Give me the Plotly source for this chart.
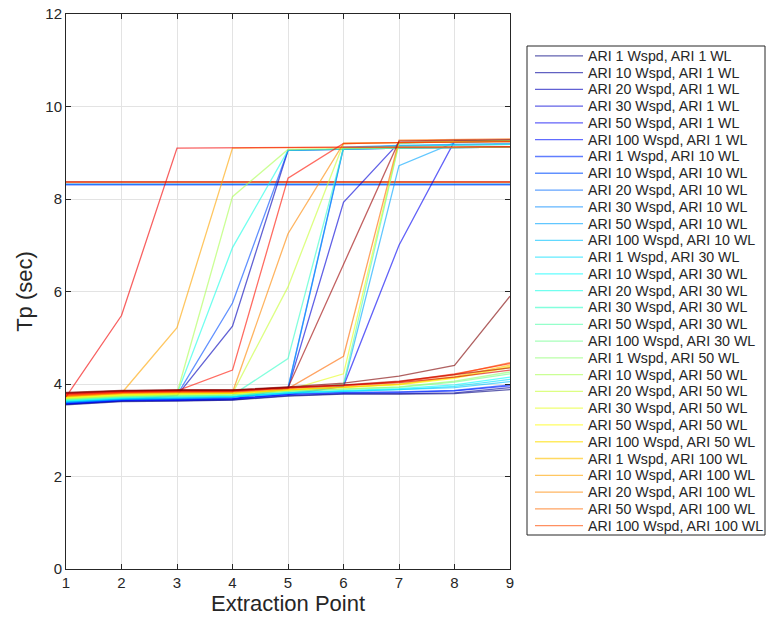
import plotly.graph_objects as go

x_points = [1, 2, 3, 4, 5, 6, 7, 8, 9]

legend_names = [
    "ARI 1 Wspd, ARI 1 WL", "ARI 10 Wspd, ARI 1 WL", "ARI 20 Wspd, ARI 1 WL",
    "ARI 30 Wspd, ARI 1 WL", "ARI 50 Wspd, ARI 1 WL", "ARI 100 Wspd, ARI 1 WL",
    "ARI 1 Wspd, ARI 10 WL", "ARI 10 Wspd, ARI 10 WL", "ARI 20 Wspd, ARI 10 WL",
    "ARI 30 Wspd, ARI 10 WL", "ARI 50 Wspd, ARI 10 WL", "ARI 100 Wspd, ARI 10 WL",
    "ARI 1 Wspd, ARI 30 WL", "ARI 10 Wspd, ARI 30 WL", "ARI 20 Wspd, ARI 30 WL",
    "ARI 30 Wspd, ARI 30 WL", "ARI 50 Wspd, ARI 30 WL", "ARI 100 Wspd, ARI 30 WL",
    "ARI 1 Wspd, ARI 50 WL", "ARI 10 Wspd, ARI 50 WL", "ARI 20 Wspd, ARI 50 WL",
    "ARI 30 Wspd, ARI 50 WL", "ARI 50 Wspd, ARI 50 WL", "ARI 100 Wspd, ARI 50 WL",
    "ARI 1 Wspd, ARI 100 WL", "ARI 10 Wspd, ARI 100 WL", "ARI 20 Wspd, ARI 100 WL",
    "ARI 50 Wspd, ARI 100 WL", "ARI 100 Wspd, ARI 100 WL",
]

# Tp (sec) per series, labelled series first, then unlabelled extra lines
tp_series = [
    [3.55, 3.62, 3.63, 3.65, 3.74, 3.78, 3.78, 3.79, 3.88],
    [3.56, 3.63, 3.64, 3.66, 3.75, 3.79, 3.79, 3.81, 3.92],
    [3.57, 3.64, 3.75, 5.25, 9.05, 9.08, 9.10, 9.11, 9.12],
    [3.57, 3.64, 3.65, 3.67, 3.90, 7.93, 9.22, 9.24, 9.25],
    [3.58, 3.65, 3.66, 3.68, 3.77, 3.95, 7.00, 9.25, 9.28],
    [3.58, 3.65, 3.66, 3.68, 3.77, 3.81, 3.82, 3.85, 3.96],
    [3.59, 3.66, 3.67, 3.69, 3.78, 3.82, 3.83, 3.86, 3.98],
    [3.60, 3.66, 3.76, 5.75, 9.05, 9.08, 9.10, 9.11, 9.12],
    [3.60, 3.67, 3.68, 3.71, 3.90, 9.10, 9.15, 9.17, 9.18],
    [3.61, 3.67, 3.69, 3.71, 3.92, 9.12, 9.16, 9.18, 9.20],
    [3.61, 3.68, 3.69, 3.72, 3.80, 3.96, 8.72, 9.22, 9.26],
    [3.62, 3.68, 3.70, 3.72, 3.80, 3.84, 3.87, 3.92, 4.05],
    [3.63, 3.69, 3.71, 3.73, 3.81, 3.85, 3.88, 3.95, 4.10],
    [3.64, 3.70, 3.72, 3.74, 3.82, 3.86, 3.90, 3.98, 4.15],
    [3.64, 3.70, 3.78, 6.95, 9.05, 9.08, 9.10, 9.11, 9.12],
    [3.65, 3.71, 3.73, 3.76, 4.55, 9.10, 9.14, 9.16, 9.18],
    [3.66, 3.72, 3.74, 3.76, 3.84, 4.00, 9.20, 9.24, 9.26],
    [3.67, 3.73, 3.75, 3.76, 3.84, 3.88, 3.93, 4.04, 4.22],
    [3.68, 3.74, 3.76, 3.77, 3.85, 3.89, 3.94, 4.06, 4.26],
    [3.69, 3.74, 3.80, 8.05, 9.07, 9.09, 9.10, 9.11, 9.12],
    [3.69, 3.75, 3.77, 3.80, 6.10, 9.20, 9.22, 9.23, 9.24],
    [3.70, 3.76, 3.78, 3.79, 3.87, 4.22, 9.22, 9.25, 9.27],
    [3.71, 3.77, 3.79, 3.80, 3.87, 3.92, 3.98, 4.12, 4.36],
    [3.72, 3.78, 3.80, 3.80, 3.88, 3.93, 3.99, 4.14, 4.38],
    [3.73, 3.79, 3.81, 3.81, 3.88, 3.93, 4.00, 4.16, 4.41],
    [3.74, 3.80, 5.22, 9.10, 9.11, 9.11, 9.12, 9.12, 9.13],
    [3.74, 3.80, 3.82, 3.82, 7.25, 9.20, 9.22, 9.23, 9.24],
    [3.75, 3.81, 3.83, 3.83, 3.90, 4.60, 9.27, 9.29, 9.30],
    [3.76, 3.82, 3.83, 3.84, 3.91, 3.96, 4.04, 4.20, 4.46],
    # unlabelled lines
    [3.77, 3.82, 3.84, 3.84, 3.91, 3.97, 4.05, 4.22, 4.44],
    [3.78, 3.83, 3.85, 4.30, 8.45, 9.20, 9.22, 9.23, 9.24],
    [3.72, 5.48, 9.10, 9.11, 9.12, 9.12, 9.12, 9.13, 9.13],
    [3.79, 3.84, 3.86, 3.86, 3.92, 3.97, 4.03, 4.15, 4.30],
    [3.80, 3.85, 3.86, 3.86, 3.93, 3.98, 4.06, 4.20, 4.35],
    [3.81, 3.85, 3.87, 3.87, 3.92, 6.60, 9.25, 9.27, 9.28],
    [3.82, 3.86, 3.87, 3.87, 3.94, 4.02, 4.17, 4.40, 5.90],
]

# constant offshore reference lines
ref_levels = [8.37, 8.36, 8.32, 8.31]
ref_color_index = [33, 28, 12, 6]


def jet(t):
    def clip(v):
        return max(0.0, min(1.0, v))
    r = clip(1.5 - abs(4 * t - 3))
    g = clip(1.5 - abs(4 * t - 2))
    b = clip(1.5 - abs(4 * t - 1))
    return int(round(r * 255)), int(round(g * 255)), int(round(b * 255))


n_col = len(tp_series)
colors = []
for i in range(n_col):
    r, g, b = jet(i / (n_col - 1))
    colors.append(f"rgba({r},{g},{b},0.62)")

# plot area in pixels (for converting the hand-drawn legend into paper coords)
W, H = 767, 624
ML, MR, MT, MB = 66, 257, 14, 55
PW, PH = W - ML - MR, H - MT - MB


def px_x(p):
    return (p - ML) / PW


def px_y(p):
    return (H - MB - p) / PH


fig = go.Figure()

for lvl, ci in zip(ref_levels, ref_color_index):
    fig.add_trace(go.Scatter(
        x=[x_points[0], x_points[-1]], y=[lvl, lvl], mode="lines",
        line=dict(color=colors[ci], width=1.6), showlegend=False, hoverinfo="skip"))

for i, ys in enumerate(tp_series):
    labelled = i < len(legend_names)
    fig.add_trace(go.Scatter(
        x=x_points, y=ys, mode="lines",
        name=legend_names[i] if labelled else f"line {i + 1}",
        showlegend=False,
        line=dict(color=colors[i], width=1.3)))

# legend (drawn by hand to match MATLAB's compact row spacing)
shapes = [dict(type="rect", xref="paper", yref="paper",
               x0=px_x(527), x1=px_x(765), y0=px_y(535), y1=px_y(46),
               line=dict(color="#262626", width=1), fillcolor="rgba(0,0,0,0)")]
annotations = []
row0, step = 55.8, 16.78
for i, name in enumerate(legend_names):
    yy = px_y(row0 + i * step)
    shapes.append(dict(type="line", xref="paper", yref="paper",
                       x0=px_x(535), x1=px_x(583), y0=yy, y1=yy,
                       line=dict(color=colors[i], width=1.3)))
    annotations.append(dict(text=name, xref="paper", yref="paper",
                            x=px_x(586), y=yy, xanchor="left", yanchor="middle",
                            showarrow=False, font=dict(size=14.2, color="#262626")))

axis_common = dict(
    showline=True, linecolor="#262626", linewidth=1, mirror="ticks",
    ticks="inside", ticklen=5, tickcolor="#262626",
    showgrid=True, gridcolor="#e3e3e3", gridwidth=1, zeroline=False,
    tickfont=dict(size=15, color="#262626"), automargin=False,
)

fig.update_layout(
    width=W, height=H,
    margin=dict(l=ML, r=MR, t=MT, b=MB),
    paper_bgcolor="white", plot_bgcolor="white",
    font=dict(family="Arial, Liberation Sans, sans-serif", color="#262626"),
    showlegend=False,
    xaxis=dict(range=[1, 9], dtick=1,
               title=dict(text="Extraction Point", font=dict(size=22), standoff=2),
               **axis_common),
    yaxis=dict(range=[0, 12], dtick=2,
               title=dict(text="Tp (sec)", font=dict(size=22), standoff=6),
               **axis_common),
    shapes=shapes,
    annotations=annotations,
)

fig.write_html(
    "out.html",
    config={"displayModeBar": False},
    post_script="document.body.style.margin='0px';document.body.style.overflow='hidden';",
)
